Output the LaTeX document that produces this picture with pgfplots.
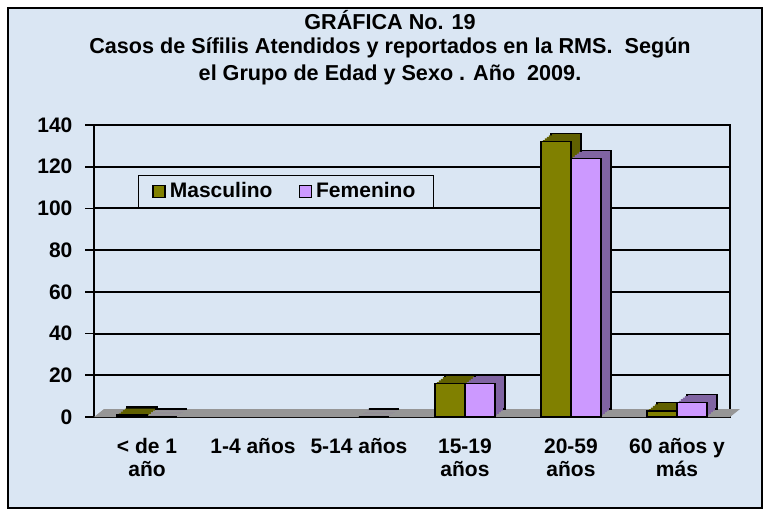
\documentclass[border=0pt]{standalone}
\usepackage{pgfplots}
\pgfplotsset{compat=1.18}
\usepackage{fontspec}
\setmainfont{Liberation Sans}
\definecolor{bgblue}{RGB}{218,230,243}
\definecolor{olive}{RGB}{128,128,0}
\definecolor{olivedark}{RGB}{96,96,0}
\definecolor{lilac}{RGB}{204,153,255}
\definecolor{lilacdark}{RGB}{128,100,162}
\definecolor{floorgray}{RGB}{150,150,150}
\makeatletter
\tikzset{nopre/.code={\let\tikz@preactions\pgfutil@empty}}
\makeatother
\tikzset{
  extrude/.style={
    preaction={fill=#1, draw=black, line width=0.6pt, transform canvas={shift={(5pt,4pt)}}},
    preaction={fill=#1, draw=none, transform canvas={shift={(4pt,3.2pt)}}},
    preaction={fill=#1, draw=none, transform canvas={shift={(3pt,2.4pt)}}},
    preaction={fill=#1, draw=none, transform canvas={shift={(2pt,1.6pt)}}},
    preaction={fill=#1, draw=none, transform canvas={shift={(1pt,0.8pt)}}}
  }
}
\begin{document}
\begin{tikzpicture}[x=1pt,y=1pt,font=\bfseries]
\path[use as bounding box] (0,0) rectangle (386.5,258);
\draw[fill=bgblue, line width=1.2pt] (4,4) rectangle (381,254);
\node[font=\bfseries\fontsize{10.8}{12}\selectfont] at (195,248) {GRÁFICA No. 19};
\node[font=\bfseries\fontsize{10.8}{12}\selectfont] at (195,234) {Casos de Sífilis Atendidos y reportados en la RMS.\ \ Según};
\node[font=\bfseries\fontsize{10.8}{12}\selectfont] at (195,220.5) {el Grupo de Edad y Sexo . Año\ \ 2009.};
\begin{axis}[
  at={(47pt,49.5pt)}, anchor=south west,
  width=318pt, height=146pt, scale only axis,
  xmin=-0.5, xmax=5.5, ymin=0, ymax=140,
  ytick={0,20,...,140},
  ytick pos=left,
  xtick={0,...,5},
  xtick pos=bottom,
  xticklabels={{< de 1\\año},{1-4 años},{5-14 años},{15-19\\años},{20-59\\años},{60 años y\\más}},
  x tick label style={align=center, font=\bfseries\fontsize{10.5}{11.5}\selectfont, yshift=-3pt},
  y tick label style={font=\bfseries\fontsize{10.5}{12}\selectfont, xshift=-3pt},
  /pgf/number format/assume math mode=true,
  extra x ticks={-0.5,0.5,...,5.5},
  extra x tick labels={},
  extra x tick style={major tick length=5pt, tick style={black, line width=0.8pt}, grid=none},
  major x tick style={draw=none},
  ytick style={black, line width=0.8pt},
  ymajorgrids,
  major grid style={black, line width=1pt},
  axis line style={black, line width=0.8pt},
  tick align=outside,
  ybar=0pt,
  bar width=15pt,
  axis background/.style={fill=bgblue},
  legend style={at={(0.069,0.829)}, anchor=north west, legend columns=2,
    font=\bfseries\fontsize{10.5}{11}\selectfont, draw=black, line width=0.4pt,
    fill=bgblue, inner xsep=7pt, inner ysep=1.5pt,
    /tikz/every even column/.append style={column sep=11pt}},
  clip=false,
]
\fill[floorgray] (axis cs:-0.5,0) -- ++(5pt,4pt) -- ([xshift=5pt,yshift=4pt]axis cs:5.5,0) -- (axis cs:5.5,0) -- cycle;
\addplot[fill=olive, draw=black, line width=0.8pt, extrude=olivedark,
  legend image code/.code={\draw[nopre, fill=olive, draw=black, line width=0.8pt] (0pt,-3pt) rectangle (6pt,3pt);}]
  coordinates {(0,1) (3,16) (4,132) (5,3)};
\addplot[fill=lilac, draw=black, line width=0.8pt, extrude=lilacdark,
  legend image code/.code={\draw[nopre, fill=lilac, draw=black, line width=0.8pt] (0pt,-3pt) rectangle (6pt,3pt);}]
  coordinates {(0,0) (2,0) (3,16) (4,124) (5,7)};
\legend{Masculino,Femenino}
\end{axis}
\end{tikzpicture}
\end{document}
